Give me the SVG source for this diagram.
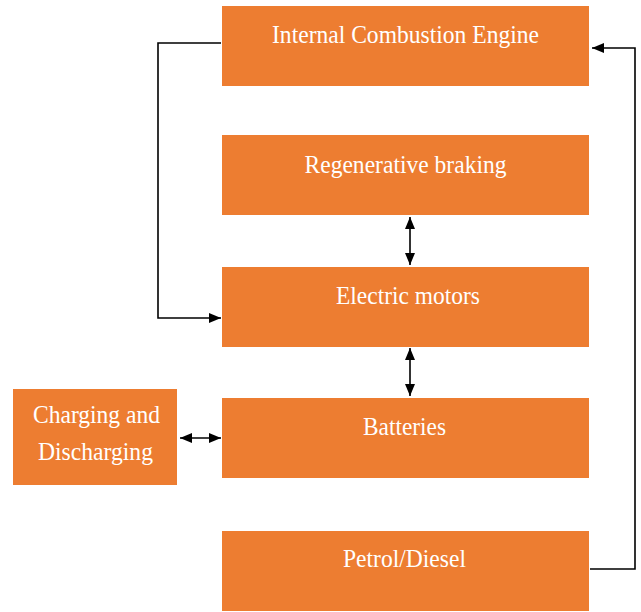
<svg xmlns="http://www.w3.org/2000/svg" width="641" height="612" viewBox="0 0 641 612">
<defs>
<style>
.box{fill:#ED7D31;}
.lbl{fill:#ffffff;font-family:"Liberation Serif","Times New Roman",serif;font-size:26px;text-anchor:middle;}
.conn{fill:none;stroke:#000000;stroke-width:1.6;}
</style>
<marker id="ah" viewBox="0 0 12 10" refX="12" refY="5" markerWidth="12" markerHeight="10" markerUnits="userSpaceOnUse" orient="auto-start-reverse">
<path d="M0,0 L12,5 L0,10 Z" fill="#000000"/>
</marker>
</defs>
<rect width="641" height="612" fill="#ffffff"/>
<g id="ice"><rect class="box" x="222" y="6" width="367" height="80"/><text class="lbl" x="405.5" y="43" textLength="267" lengthAdjust="spacingAndGlyphs">Internal Combustion Engine</text></g>
<g id="regen"><rect class="box" x="222" y="135" width="367" height="80"/><text class="lbl" x="405.5" y="172.5" textLength="202" lengthAdjust="spacingAndGlyphs">Regenerative braking</text></g>
<g id="motors"><rect class="box" x="222" y="267" width="367" height="80"/><text class="lbl" x="408" y="304" textLength="144" lengthAdjust="spacingAndGlyphs">Electric motors</text></g>
<g id="batteries"><rect class="box" x="222" y="398" width="367" height="80"/><text class="lbl" x="404.5" y="435" textLength="83" lengthAdjust="spacingAndGlyphs">Batteries</text></g>
<g id="petrol"><rect class="box" x="222" y="531" width="367" height="80"/><text class="lbl" x="404.5" y="567" textLength="123" lengthAdjust="spacingAndGlyphs">Petrol/Diesel</text></g>
<g id="charging"><rect class="box" x="13" y="389" width="164" height="96"/><text class="lbl" x="96.5" y="423" textLength="127" lengthAdjust="spacingAndGlyphs">Charging and</text><text class="lbl" x="95.5" y="460" textLength="115" lengthAdjust="spacingAndGlyphs">Discharging</text></g>
<g id="connectors">
<polyline class="conn" points="221,43 158,43 158,318 221,318" marker-end="url(#ah)"/>
<polyline class="conn" points="590,569 635,569 635,48 592,48" marker-end="url(#ah)"/>
<line class="conn" x1="410" y1="217" x2="410" y2="265" marker-start="url(#ah)" marker-end="url(#ah)"/>
<line class="conn" x1="410" y1="348" x2="410" y2="396" marker-start="url(#ah)" marker-end="url(#ah)"/>
<line class="conn" x1="180" y1="438" x2="221" y2="438" marker-start="url(#ah)" marker-end="url(#ah)"/>
</g>
</svg>
